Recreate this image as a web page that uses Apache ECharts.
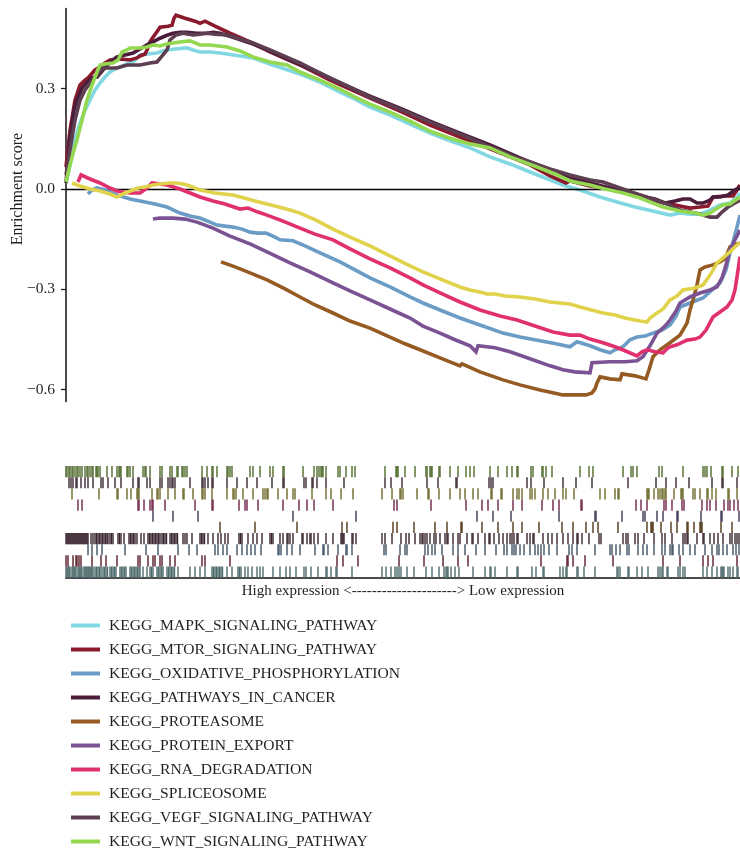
<!DOCTYPE html>
<html>
<head>
<meta charset="utf-8">
<script src="https://cdn.jsdelivr.net/npm/echarts@6/dist/echarts.min.js"></script>
<style>html,body{margin:0;padding:0;background:#fff}#c{width:740px;height:856px}</style>
</head>
<body>
<div id="c"></div>
<script>
// ---------- DATA ----------
const seriesNames = ['KEGG_MAPK_SIGNALING_PATHWAY','KEGG_MTOR_SIGNALING_PATHWAY','KEGG_OXIDATIVE_PHOSPHORYLATION','KEGG_PATHWAYS_IN_CANCER','KEGG_PROTEASOME','KEGG_PROTEIN_EXPORT','KEGG_RNA_DEGRADATION','KEGG_SPLICEOSOME','KEGG_VEGF_SIGNALING_PATHWAY','KEGG_WNT_SIGNALING_PATHWAY'];
const lineColors = ['#82d8e2','#8b1a2d','#6a9cc5','#4b1d3a','#955b23','#7b5394','#e0306d','#e0d24a','#5e3f52','#94d852'];
const rugColors = ['#4d6a6c','#5a1c28','#3f5264','#3a2430','#4f3518','#3f3450','#6d2445','#6e6a2a','#3b2733','#4f6a2c'];
const yTickValues = [-0.6, -0.3, 0, 0.3];
const xLabel = 'High expression <---------------------> Low expression';
const yLabel = 'Enrichment score';

// running enrichment scores: [gene rank position, ES]
const mapkScore = [[0,0.018],[4,0.072],[9,0.147],[14,0.197],[19,0.236],[24,0.266],[29,0.296],[34,0.317],[39,0.335],[44,0.350],[49,0.359],[54,0.365],[61,0.374],[67,0.380],[74,0.401],[82,0.404],[91,0.407],[97,0.413],[101,0.416],[109,0.419],[121,0.422],[127,0.416],[134,0.410],[144,0.410],[154,0.407],[161,0.404],[174,0.398],[187,0.392],[204,0.374],[219,0.359],[234,0.344],[254,0.320],[274,0.290],[289,0.269],[304,0.245],[324,0.221],[344,0.194],[364,0.167],[384,0.144],[404,0.123],[424,0.096],[444,0.075],[464,0.051],[479,0.033],[497,0.012],[514,-0.003],[534,-0.024],[551,-0.039],[569,-0.054],[591,-0.069],[604,-0.078],[614,-0.072],[624,-0.075],[634,-0.075],[644,-0.063],[654,-0.048],[664,-0.042],[671,-0.024],[674,-0.012]];
const mtorScore = [[0,0.066],[4,0.176],[9,0.266],[14,0.311],[19,0.326],[22,0.332],[29,0.356],[34,0.365],[39,0.377],[44,0.386],[54,0.389],[64,0.386],[71,0.392],[74,0.398],[79,0.404],[81,0.416],[84,0.440],[87,0.454],[92,0.475],[94,0.484],[102,0.487],[106,0.490],[108,0.511],[110,0.520],[119,0.511],[129,0.502],[134,0.496],[139,0.502],[149,0.487],[164,0.466],[184,0.440],[204,0.410],[234,0.371],[264,0.326],[284,0.299],[304,0.272],[334,0.233],[364,0.191],[394,0.155],[424,0.120],[444,0.096],[464,0.072],[484,0.039],[500,0.018],[504,0.024],[524,0.009],[554,-0.003],[574,-0.018],[594,-0.039],[609,-0.048],[624,-0.057],[634,-0.054],[642,-0.051],[647,-0.024],[659,-0.021],[667,-0.021],[671,-0.003],[674,0.012]];
const oxphosScore = [[22,-0.015],[26,-0.003],[31,0.003],[39,-0.003],[51,-0.018],[64,-0.030],[74,-0.036],[89,-0.045],[101,-0.054],[114,-0.072],[124,-0.081],[134,-0.087],[144,-0.099],[151,-0.108],[159,-0.111],[167,-0.114],[176,-0.120],[184,-0.129],[192,-0.132],[200,-0.132],[207,-0.141],[214,-0.152],[227,-0.155],[239,-0.170],[254,-0.191],[274,-0.218],[289,-0.242],[304,-0.266],[324,-0.293],[344,-0.323],[357,-0.341],[374,-0.362],[394,-0.386],[414,-0.407],[437,-0.431],[454,-0.443],[474,-0.454],[490,-0.463],[504,-0.472],[511,-0.457],[524,-0.469],[534,-0.481],[544,-0.490],[549,-0.481],[557,-0.472],[564,-0.451],[571,-0.443],[579,-0.440],[587,-0.431],[596,-0.422],[604,-0.407],[610,-0.380],[614,-0.353],[624,-0.341],[637,-0.326],[646,-0.302],[654,-0.281],[660,-0.242],[664,-0.191],[668,-0.147],[671,-0.114],[674,-0.078]];
const cancerScore = [[0,0.018],[4,0.147],[8,0.236],[11,0.266],[16,0.302],[21,0.320],[26,0.332],[31,0.335],[37,0.356],[44,0.380],[51,0.395],[59,0.401],[67,0.407],[74,0.419],[81,0.431],[87,0.440],[94,0.451],[101,0.460],[107,0.466],[114,0.469],[121,0.469],[131,0.466],[141,0.466],[147,0.469],[154,0.466],[167,0.454],[184,0.437],[201,0.416],[224,0.386],[254,0.347],[279,0.311],[304,0.278],[334,0.242],[364,0.203],[394,0.167],[424,0.132],[454,0.093],[479,0.063],[504,0.036],[524,0.018],[544,0.003],[559,-0.009],[574,-0.021],[589,-0.030],[599,-0.042],[609,-0.036],[617,-0.030],[624,-0.030],[631,-0.042],[637,-0.042],[644,-0.033],[647,-0.024],[654,-0.024],[662,-0.018],[669,-0.003],[674,0.006]];
const proteasomeScore = [[155,-0.218],[169,-0.233],[184,-0.251],[201,-0.272],[219,-0.299],[234,-0.323],[249,-0.347],[267,-0.371],[284,-0.395],[304,-0.416],[324,-0.443],[339,-0.463],[354,-0.481],[374,-0.505],[394,-0.529],[396,-0.523],[414,-0.547],[437,-0.571],[454,-0.586],[474,-0.601],[497,-0.616],[509,-0.616],[520,-0.616],[526,-0.610],[529,-0.598],[531,-0.580],[534,-0.562],[544,-0.568],[554,-0.571],[556,-0.553],[569,-0.559],[580,-0.568],[583,-0.541],[587,-0.502],[594,-0.481],[604,-0.460],[614,-0.437],[621,-0.401],[624,-0.362],[627,-0.332],[631,-0.287],[634,-0.242],[639,-0.233],[647,-0.227],[654,-0.218],[659,-0.209],[664,-0.173],[669,-0.167],[674,-0.161]];
const exportScore = [[87,-0.090],[94,-0.087],[107,-0.087],[119,-0.090],[131,-0.099],[139,-0.108],[147,-0.117],[164,-0.141],[184,-0.164],[201,-0.188],[224,-0.221],[244,-0.248],[267,-0.281],[284,-0.305],[304,-0.332],[324,-0.359],[344,-0.386],[357,-0.410],[374,-0.431],[389,-0.451],[404,-0.469],[410,-0.487],[412,-0.469],[429,-0.475],[444,-0.487],[464,-0.508],[484,-0.529],[497,-0.541],[509,-0.547],[524,-0.550],[526,-0.520],[544,-0.517],[559,-0.517],[571,-0.514],[577,-0.502],[584,-0.469],[591,-0.431],[599,-0.410],[604,-0.392],[610,-0.365],[614,-0.341],[624,-0.323],[634,-0.311],[644,-0.302],[651,-0.293],[656,-0.266],[660,-0.227],[664,-0.182],[669,-0.152],[674,-0.123]];
const rnaScore = [[12,0.021],[15,0.042],[24,0.030],[34,0.018],[44,0.003],[51,-0.006],[64,-0.012],[74,-0.012],[81,0.003],[86,0.018],[94,0.015],[101,0.012],[114,0.000],[124,-0.012],[134,-0.024],[147,-0.036],[159,-0.045],[174,-0.060],[182,-0.057],[192,-0.069],[201,-0.078],[217,-0.096],[234,-0.117],[249,-0.135],[267,-0.152],[284,-0.179],[304,-0.209],[324,-0.236],[344,-0.266],[357,-0.287],[374,-0.311],[394,-0.338],[414,-0.362],[434,-0.380],[451,-0.392],[469,-0.410],[487,-0.428],[504,-0.437],[514,-0.437],[524,-0.449],[537,-0.460],[549,-0.472],[559,-0.484],[571,-0.499],[576,-0.487],[581,-0.481],[589,-0.487],[597,-0.490],[601,-0.478],[604,-0.472],[611,-0.466],[621,-0.452],[629,-0.449],[634,-0.443],[640,-0.422],[647,-0.383],[654,-0.368],[661,-0.353],[666,-0.332],[669,-0.302],[671,-0.263],[674,-0.203]];
const spliceScore = [[6,0.018],[14,0.009],[24,0.000],[34,-0.006],[44,-0.015],[51,-0.024],[59,-0.012],[67,-0.003],[72,0.003],[79,0.006],[87,0.012],[94,0.015],[104,0.018],[111,0.018],[117,0.015],[124,0.009],[134,-0.003],[149,-0.012],[167,-0.018],[182,-0.030],[189,-0.036],[197,-0.042],[209,-0.051],[224,-0.063],[234,-0.072],[250,-0.093],[267,-0.120],[284,-0.144],[304,-0.170],[324,-0.200],[344,-0.230],[357,-0.248],[374,-0.269],[394,-0.293],[404,-0.302],[414,-0.308],[421,-0.314],[429,-0.314],[439,-0.320],[454,-0.323],[469,-0.329],[484,-0.338],[504,-0.344],[514,-0.353],[537,-0.371],[549,-0.377],[559,-0.386],[574,-0.395],[581,-0.398],[584,-0.386],[591,-0.371],[597,-0.359],[604,-0.332],[611,-0.320],[617,-0.302],[629,-0.296],[637,-0.287],[642,-0.266],[646,-0.248],[651,-0.221],[657,-0.206],[664,-0.188],[670,-0.170],[674,-0.161]];
const vegfScore = [[0,0.042],[4,0.117],[9,0.206],[14,0.266],[19,0.296],[24,0.317],[31,0.341],[37,0.362],[44,0.362],[51,0.362],[61,0.371],[74,0.371],[84,0.377],[91,0.380],[97,0.401],[101,0.416],[104,0.446],[110,0.461],[117,0.466],[127,0.461],[134,0.463],[141,0.466],[149,0.463],[161,0.461],[174,0.449],[187,0.437],[204,0.416],[234,0.377],[264,0.332],[284,0.305],[304,0.275],[334,0.239],[364,0.200],[394,0.164],[424,0.126],[444,0.102],[454,0.090],[464,0.081],[484,0.060],[504,0.042],[524,0.027],[537,0.021],[554,0.003],[574,-0.018],[589,-0.033],[604,-0.048],[614,-0.063],[624,-0.069],[634,-0.075],[644,-0.084],[651,-0.084],[656,-0.069],[662,-0.054],[669,-0.042],[674,-0.033]];
const wntScore = [[0,0.021],[4,0.072],[8,0.117],[11,0.147],[16,0.206],[21,0.266],[26,0.311],[31,0.350],[34,0.371],[39,0.374],[47,0.377],[52,0.386],[56,0.410],[61,0.416],[64,0.422],[74,0.422],[81,0.425],[87,0.431],[94,0.428],[101,0.434],[107,0.437],[114,0.440],[124,0.443],[129,0.437],[134,0.431],[144,0.431],[161,0.425],[174,0.413],[187,0.395],[204,0.380],[221,0.371],[234,0.350],[254,0.326],[274,0.299],[289,0.275],[304,0.254],[324,0.230],[344,0.203],[364,0.173],[384,0.152],[404,0.135],[424,0.123],[444,0.096],[471,0.066],[489,0.045],[504,0.024],[524,0.012],[539,0.000],[557,-0.012],[574,-0.027],[597,-0.054],[614,-0.066],[629,-0.072],[637,-0.078],[644,-0.072],[650,-0.060],[657,-0.048],[664,-0.045],[671,-0.030],[674,-0.024]];

// gene-set hit positions (rank positions) for the barcode rows
const mapkHits = [0,1,2,3,4,6,7,8,9,10,12,13,14,15,16,18,19,20,21,22,23,24,25,26,27,29,30.5,32,33.5,35,37,38.5,40,41.5,44,45.5,47,48.5,50,54,55.5,57,58.5,60,64,65.5,67,68.5,70,71.5,73,74,77,81,84,85.5,87,91,92.5,94,95.5,97,101,102.5,104,105.5,107,108.5,112,124,129,134,139,146,147.5,149,150.5,152,153.5,155,156.5,161,166,172,173.5,175,179,182,186,191,194,197,207,214,220,224,230,238,240,245,252,260,261,265,270,271,286,316,320,325,329,331,333,335,341,348,360,366,373,378,380,381,382,385,389,393,407,419,424,425,429,441,451,452,466,470,477,478,494,497,500,501,511,512,518,529,551,552,554,562,563,571,576,582,592,594,596,597,601,602,612,614,617,619,637,641,646,651,655,656,657,658,662,664,667,671,672];
const mtorHits = [0,2,7,10,11,13,15,26,35,40,51,72,74,82,87,89,94,96,104,109,136,139,164,271,277,292,333,358,377,392,402,475,501,502,507,519,547,597,614,637,642,647,671];
const oxphosHits = [22,26,31,36,59,80,92,112,123,131,149,152,157,161,171,176,181,185,189,195,212,213,215,221,226,234,249,257,258,262,272,280,281,286,318,320,334,339,341,359,362,366,369,376,387,392,399,410,419,430,438,441,446,448,450,454,458,464,469,472,475,478,483,491,503,506,511,529,544,546,550,554,561,563,572,577,581,588,596,599,604,606,607,613,617,624,629,639,646,651,653,657,661,667,670,673];
const cancerHits = [0,1,2,3,4,5,6,7,8,9,10,11,12,13,14,15,16,17,18,19,20,21,22,25,27,29,30.5,32,33.5,35,36.5,38,39.5,41,42,44,45.5,47,52,53.5,55,58,63,64.5,66,67.5,69,71,75,78,82,83.5,85,86.5,88,89.5,91,92.5,94,96,97.5,99,100.5,104,105.5,107,108.5,110,111.5,117,119,121,126,134,135.5,137,138.5,142,147,152,155,159,162,173,174.5,176,182,187,191,196,204,205.5,207,214,217,221,222,224,227,236,237,241,244,245,248,252,260,267,275,276,277,278,286,287,290,316,319,326,335,340,343,349,354,356,357,359,361,364,368,370,374,379,381,382,387,392,394,401,406,407,412,419,423,424,428,433,437,441,444,446,448,451,452,461,464,467,468,477,482,486,491,497,502,507,511,512,516,523,533,535,557,560,562,569,572,578,588,596,599,606,617,619,621,622,631,637,638,644,648,652,657,664,666,669,671,673];
const proteasomeHits = [154,189,231,276,281,327,331,348,369,381,395,396,416,432,447,456,473,496,507,520,527,532,552,581,585,586,587,595,605,611,621,622,628,634,635,636,655,666];
const exportHits = [87,107,132,227,290,411,427,445,493,529,530,556,577,579,591,597,611,612,635,655,656,673];
const rnaHits = [12,16,72,73,78,84,86,87,99,129,146,147,173,179,181,192,217,233,241,248,267,328,331,365,400,416,422,432,447,456,476,487,493,515,516,570,575,581,598,600,606,616,618,636,641,644,650,658,662,664,668,672];
const spliceHits = [6,33,51,52,61,65,71,72,73,86,91,92,94,102,109,117,118,127,136,137,139,146,161,167,168,170,177,187,197,199,201,202,212,221,227,229,246,260,265,275,287,316,326,334,335,337,351,362,363,373,384,394,399,407,412,425,426,435,436,447,451,453,456,464,466,469,477,482,489,497,500,508,534,539,549,552,553,581,582,583,588,592,594,596,597,599,600,608,615,616,617,627,629,634,641,642,646,650,662,663,671];
const vegfHits = [3,5,7,10,11,15,19,22,27,35,37,42,49,55,67,72,73,81,84,94,96,102,104,106,107,109,124,136,137,139,142,146,147,161,171,181,191,206,217,218,238,240,246,247,251,260,278,319,325,336,361,372,390,391,423,425,427,461,465,478,497,510,526,562,590,600,610,623,646,656,657,671];
const wntHits = [0,1,3,4,6,7,9,11,12,14,16,19,21,22,24,26,27,30,31,32,34,41,46,51,53,54,55,61,62,64,67,77,79,80,84,94,96,104,106,111,112,116,117,119,121,136,141,146,147,151,161,162,164,166,184,187,194,204,207,217,218,237,248,251,253,255,256,257,260,272,274,280,286,289,319,330,331,332,339,349,360,361,364,365,366,373,374,384,392,400,404,408,424,432,441,446,451,452,465,467,476,477,480,486,514,523,527,557,565,567,571,593,596,617,637,639,641,645,656,657,666,672];

const scoreList = [mapkScore, mtorScore, oxphosScore, cancerScore, proteasomeScore, exportScore, rnaScore, spliceScore, vegfScore, wntScore];
const hitList = [mapkHits, mtorHits, oxphosHits, cancerHits, proteasomeHits, exportHits, rnaHits, spliceHits, vegfHits, wntHits];

// ---------- CHART ----------
const FONT = 'Liberation Serif';
const TXT = '#231f20';
const chart = echarts.init(document.getElementById('c'), null, {renderer: 'canvas'});

const rugData = [];
hitList.forEach((arr, row) => arr.forEach(x => rugData.push([x, row])));

const lineSeries = scoreList.map((d, i) => ({
  name: seriesNames[i],
  type: 'line',
  xAxisIndex: 0, yAxisIndex: 0,
  data: d,
  showSymbol: false,
  symbol: 'none',
  lineStyle: {color: lineColors[i], width: 3.6, join: 'miter'},
  itemStyle: {color: lineColors[i]},
  z: 3 + i,
  animation: false,
  silent: true
}));
lineSeries[0].markLine = {
  silent: true, symbol: 'none', animation: false,
  label: {show: false},
  lineStyle: {color: '#000', width: 1.4, type: 'solid'},
  data: [{yAxis: 0}]
};

const option = {
  backgroundColor: '#fff',
  animation: false,
  grid: [
    {left: 66, right: 0, top: 8.5, height: 393.1, containLabel: false},
    {left: 66, right: 0, top: 466, height: 111.7, containLabel: false}
  ],
  xAxis: [
    {gridIndex: 0, type: 'value', min: 0, max: 674, show: false},
    {gridIndex: 1, type: 'value', min: 0, max: 674,
     axisLine: {show: true, onZero: false, lineStyle: {color: '#4a4a4a', width: 2}},
     axisTick: {show: false}, axisLabel: {show: false}, splitLine: {show: false},
     name: xLabel, nameLocation: 'middle', nameGap: 6,
     nameTextStyle: {fontFamily: FONT, fontSize: 15, color: TXT, verticalAlign: 'top'}}
  ],
  yAxis: [
    {gridIndex: 0, type: 'value', min: -0.636, max: 0.54,
     axisLine: {show: true, lineStyle: {color: '#231f20', width: 1.6}},
     axisTick: {show: true, length: 5, customValues: yTickValues, lineStyle: {color: '#231f20', width: 1.3}},
     axisLabel: {show: true, customValues: yTickValues, margin: 11, fontFamily: FONT, fontSize: 15.5, color: TXT,
       formatter: v => (v < 0 ? '\u2212' : '') + Math.abs(v).toFixed(1)},
     splitLine: {show: false}},
    {gridIndex: 1, type: 'category', data: seriesNames, show: false, boundaryGap: true}
  ],
  legend: {
    data: seriesNames,
    orient: 'vertical',
    left: 71, top: 617.5,
    padding: 0,
    itemGap: 8,
    itemWidth: 29, itemHeight: 4,
    icon: 'rect',
    selectedMode: false,
    textStyle: {fontFamily: FONT, fontSize: 15.6, color: TXT, lineHeight: 16, padding: [0, 0, 0, 4]}
  },
  graphic: [{
    type: 'text',
    x: 18, y: 189,
    rotation: Math.PI / 2,
    style: {text: yLabel, font: '16px "Liberation Serif"', fill: TXT, align: 'center', verticalAlign: 'middle'}
  }],
  series: lineSeries.concat([{
    type: 'custom',
    name: 'hits',
    xAxisIndex: 1, yAxisIndex: 1,
    data: rugData,
    encode: {x: 0, y: 1},
    silent: true,
    animation: false,
    renderItem: function (params, api) {
      const row = api.value(1);
      const p = api.coord([api.value(0), row]);
      const h = api.size([0, 1])[1];
      return {
        type: 'rect',
        shape: {x: p[0] - 0.7, y: p[1] - h / 2, width: 1.4, height: h},
        style: {fill: rugColors[row]}
      };
    }
  }])
};
chart.setOption(option);
</script>
</body>
</html>
